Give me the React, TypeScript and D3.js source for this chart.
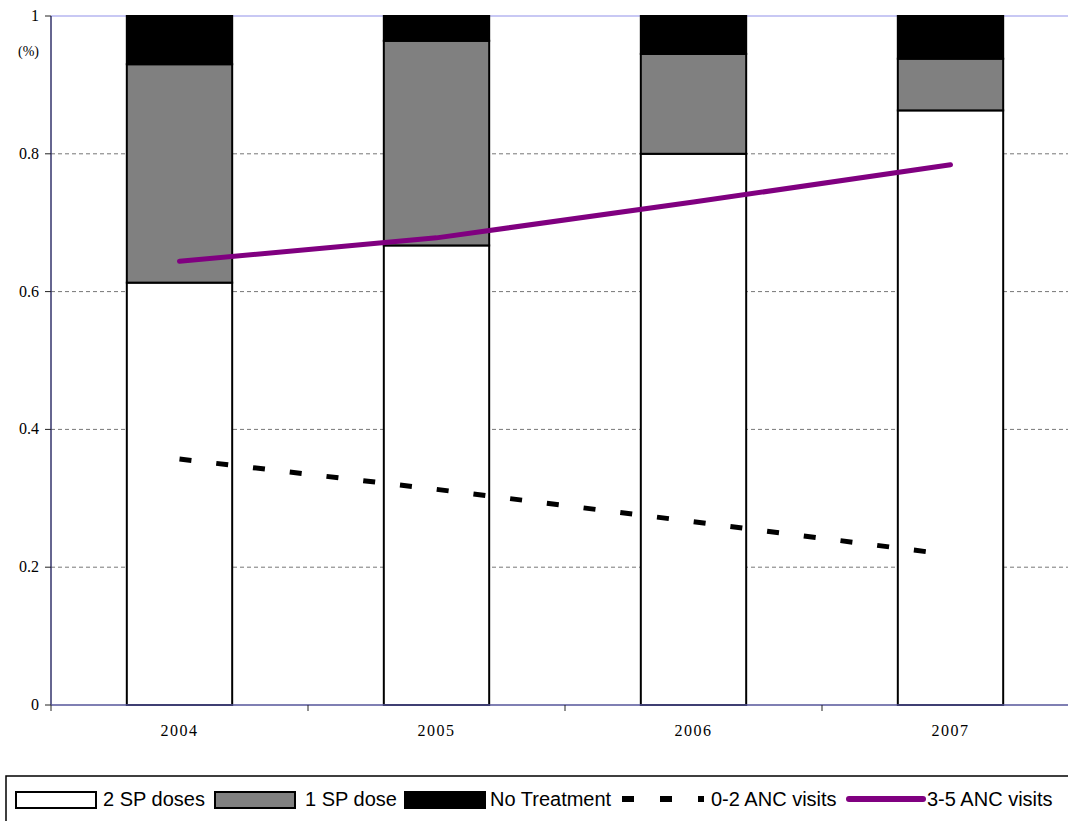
import React, { useRef, useEffect } from 'react';
import * as d3 from 'd3';

const years = ['2004', '2005', '2006', '2007'];
const twoSpDoses = [0.613, 0.667, 0.8, 0.863];
const oneSpDose = [0.317, 0.297, 0.145, 0.075];
const noTreatment = [0.07, 0.036, 0.055, 0.062];
const anc02 = [0.357, 0.313, 0.266, 0.218];
const anc35 = [0.644, 0.678, 0.73, 0.784];
const yTicks = [0, 0.2, 0.4, 0.6, 0.8, 1];

const W = 1068;
const H = 821;

const App: React.FC = () => {
    const svgRef = useRef<SVGSVGElement | null>(null);

    useEffect(() => {
        const svg = d3.select(svgRef.current);
        svg.selectAll('*').remove();

        const left = 51;
        const top = 16;
        const bottom = 705;

        const x = d3.scaleBand<string>()
            .domain(years)
            .range([left, 1079])
            .paddingInner(0.59)
            .paddingOuter(0.295);
        const step = x.step();
        const y = d3.scaleLinear().domain([0, 1]).range([bottom, top]);

        // gridlines
        svg.append('g')
            .selectAll('line')
            .data(yTicks.filter(t => t > 0 && t < 1))
            .enter()
            .append('line')
            .attr('x1', left)
            .attr('x2', W)
            .attr('y1', d => y(d))
            .attr('y2', d => y(d))
            .attr('stroke', '#777')
            .attr('stroke-width', 1)
            .attr('stroke-dasharray', '4,3');

        svg.append('line')
            .attr('x1', left).attr('x2', W)
            .attr('y1', y(1)).attr('y2', y(1))
            .attr('stroke', '#c8c8f4')
            .attr('stroke-width', 2);

        // stacked bars
        const rows = years.map((yr, i) => ({
            year: yr,
            two: twoSpDoses[i],
            one: oneSpDose[i],
            none: noTreatment[i],
        }));
        const stack = d3.stack<any>().keys(['two', 'one', 'none']);
        const series = stack(rows);
        const fills: Record<string, string> = { two: '#ffffff', one: '#808080', none: '#000000' };

        svg.append('g')
            .selectAll('g')
            .data(series)
            .enter()
            .append('g')
            .attr('fill', d => fills[d.key])
            .selectAll('rect')
            .data(d => d)
            .enter()
            .append('rect')
            .attr('x', d => x(d.data.year) as number)
            .attr('width', x.bandwidth())
            .attr('y', d => y(Math.min(d[1], 1)))
            .attr('height', d => y(d[0]) - y(Math.min(d[1], 1)))
            .attr('stroke', '#000')
            .attr('stroke-width', 2);

        // y axis
        svg.append('line')
            .attr('x1', left).attr('x2', left)
            .attr('y1', top).attr('y2', bottom)
            .attr('stroke', '#33336b')
            .attr('stroke-width', 1.5);
        const yAxis = svg.append('g');
        yAxis.selectAll('line')
            .data(yTicks)
            .enter()
            .append('line')
            .attr('x1', left - 6).attr('x2', left)
            .attr('y1', d => y(d)).attr('y2', d => y(d))
            .attr('stroke', '#222')
            .attr('stroke-width', 1);
        yAxis.selectAll('text')
            .data(yTicks)
            .enter()
            .append('text')
            .attr('x', 39)
            .attr('y', d => y(d) + 5)
            .attr('text-anchor', 'end')
            .style('font-family', '"Liberation Serif", serif')
            .style('font-size', '16px')
            .text(d => String(d));
        svg.append('text')
            .attr('x', 18)
            .attr('y', 56)
            .style('font-family', '"Liberation Serif", serif')
            .style('font-size', '14px')
            .text('(%)');

        // x axis
        svg.append('line')
            .attr('x1', left).attr('x2', W)
            .attr('y1', bottom).attr('y2', bottom)
            .attr('stroke', '#55559a')
            .attr('stroke-width', 1.5);
        const bounds = d3.range(years.length + 1).map(i => left + i * step);
        svg.append('g')
            .selectAll('line')
            .data(bounds)
            .enter()
            .append('line')
            .attr('x1', d => d).attr('x2', d => d)
            .attr('y1', bottom).attr('y2', bottom + 6)
            .attr('stroke', '#222')
            .attr('stroke-width', 1);
        svg.append('g')
            .selectAll('text')
            .data(years)
            .enter()
            .append('text')
            .attr('x', d => (x(d) as number) + x.bandwidth() / 2)
            .attr('y', 736)
            .attr('text-anchor', 'middle')
            .style('font-family', '"Liberation Serif", serif')
            .style('font-size', '16px')
            .style('letter-spacing', '1.5px')
            .text(d => d);

        // lines
        const cx = (i: number) => (x(years[i]) as number) + x.bandwidth() / 2;
        const line = d3.line<number>()
            .x((_, i) => cx(i))
            .y(d => y(d));

        svg.append('path')
            .datum(anc02)
            .attr('d', line)
            .attr('fill', 'none')
            .attr('stroke', '#000')
            .attr('stroke-width', 5)
            .attr('stroke-dasharray', '12,25');

        svg.append('path')
            .datum(anc35)
            .attr('d', line)
            .attr('fill', 'none')
            .attr('stroke', '#800080')
            .attr('stroke-width', 5)
            .attr('stroke-linecap', 'round');

        // legend
        const lg = svg.append('g');
        lg.append('rect')
            .attr('x', 6).attr('y', 776)
            .attr('width', W + 10).attr('height', 60)
            .attr('fill', '#fff')
            .attr('stroke', '#000')
            .attr('stroke-width', 1.5);

        const items = [
            { label: '2 SP doses', kind: 'rect', color: '#ffffff', sx: 16, tx: 103 },
            { label: '1 SP dose', kind: 'rect', color: '#808080', sx: 215, tx: 305 },
            { label: 'No Treatment', kind: 'rect', color: '#000000', sx: 405, tx: 490 },
            { label: '0-2 ANC visits', kind: 'dash', color: '#000000', sx: 622, tx: 711 },
            { label: '3-5 ANC visits', kind: 'line', color: '#800080', sx: 847, tx: 927 },
        ];
        items.forEach(it => {
            if (it.kind === 'rect') {
                lg.append('rect')
                    .attr('x', it.sx).attr('y', 792)
                    .attr('width', 80).attr('height', 16)
                    .attr('fill', it.color)
                    .attr('stroke', '#000')
                    .attr('stroke-width', 2);
            } else if (it.kind === 'dash') {
                lg.append('line')
                    .attr('x1', it.sx).attr('x2', it.sx + 82)
                    .attr('y1', 799).attr('y2', 799)
                    .attr('stroke', it.color)
                    .attr('stroke-width', 6)
                    .attr('stroke-dasharray', '12,26');
            } else {
                lg.append('line')
                    .attr('x1', it.sx + 2).attr('x2', it.sx + 76)
                    .attr('y1', 799).attr('y2', 799)
                    .attr('stroke', it.color)
                    .attr('stroke-width', 6)
                    .attr('stroke-linecap', 'round');
            }
            lg.append('text')
                .attr('x', it.tx)
                .attr('y', 806)
                .style('font-family', '"Liberation Sans", Arial, sans-serif')
                .style('font-size', '20px')
                .text(it.label);
        });
    }, []);

    return (
        <svg
            ref={svgRef}
            width={W}
            height={H}
            style={{ position: 'absolute', left: 0, top: 0, background: '#fff' }}
        />
    );
};

export default App;
